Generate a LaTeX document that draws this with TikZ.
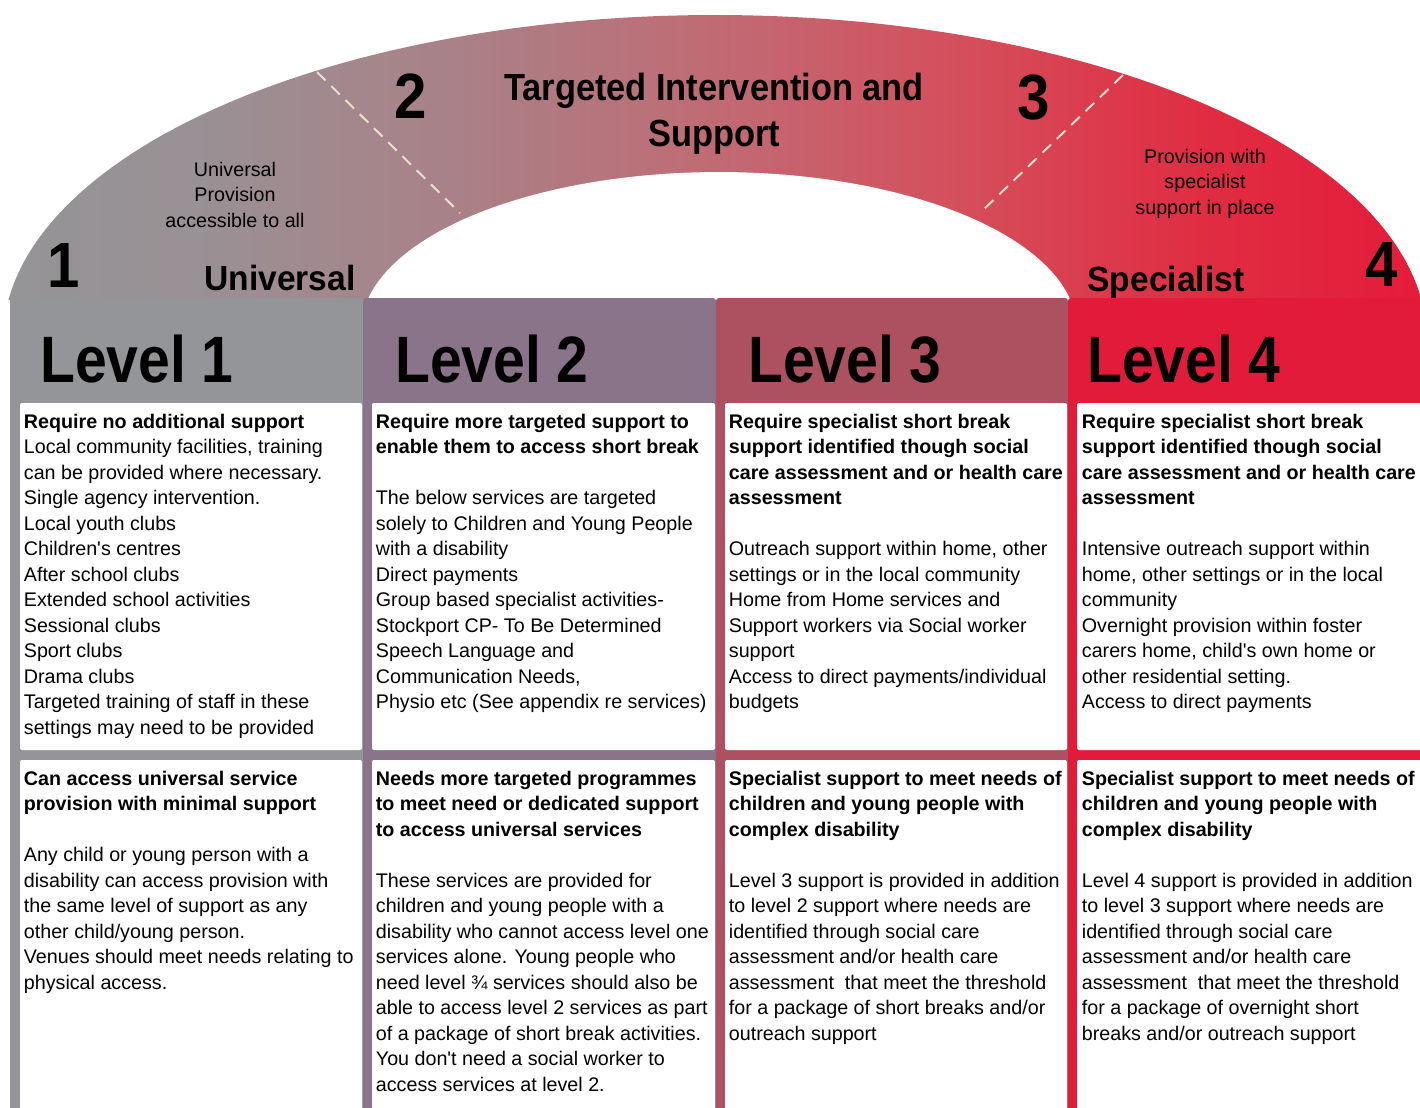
\documentclass[tikz,border=0pt]{standalone}
\usepackage{fontspec}
\setmainfont{Liberation Sans}
\newfontfamily\levelfont[FakeStretch=0.87]{Liberation Sans}
\newfontfamily\titlefont[FakeStretch=0.91]{Liberation Sans}
\newfontfamily\tierfont[FakeStretch=0.96]{Liberation Sans}

% column colours
\definecolor{lvgrey}{RGB}{148,149,152}
\definecolor{lvmauve}{RGB}{138,116,137}
\definecolor{lvrose}{RGB}{173,80,96}
\definecolor{lvred}{RGB}{227,27,59}
\definecolor{dashcol}{RGB}{234,222,206}

% arch gradient stops, left to right
\definecolor{ga}{RGB}{149,148,151}
\definecolor{gb}{RGB}{153,145,149}
\definecolor{gc}{RGB}{168,130,136}
\definecolor{gd}{RGB}{192,107,116}
\definecolor{ge}{RGB}{212,80,93}
\definecolor{gf}{RGB}{224,45,66}
\definecolor{gg}{RGB}{228,28,58}
\pgfdeclarehorizontalshading{archgrad}{100bp}{%
  color(0bp)=(ga); color(25bp)=(ga); color(31.6bp)=(gb); color(40.5bp)=(gc);
  color(49.9bp)=(gd); color(58.3bp)=(ge); color(67.2bp)=(gf); color(75bp)=(gg);
  color(100bp)=(gg)}

\begin{document}
\begin{tikzpicture}[x=0.5pt,y=-0.5pt,
  % multi-line nodes are placed by the baseline of their last line
  body/.style={font=\fontsize{9.85pt}{12.75pt}\selectfont, align=left,
    inner sep=0pt, anchor=base west},
  small/.style={font=\fontsize{9.85pt}{12.75pt}\selectfont, align=center,
    inner sep=0pt, anchor=base},
  levelhead/.style={font=\levelfont\bfseries\fontsize{32.8pt}{36pt}\selectfont,
    inner sep=0pt, anchor=base},
  bignum/.style={font=\titlefont\bfseries\fontsize{32pt}{36pt}\selectfont,
    inner sep=0pt, anchor=base},
  tier/.style={font=\tierfont\bfseries\fontsize{17.5pt}{20pt}\selectfont,
    inner sep=0pt, anchor=base},
  arctitle/.style={font=\titlefont\bfseries\fontsize{18.9pt}{23pt}\selectfont,
    align=center, inner sep=0pt, anchor=base},
  divider/.style={draw=dashcol, line width=1pt, dash pattern=on 6pt off 4pt},
  panel/.style={fill=white, rounded corners=1pt}
]
\useasboundingbox (0,0) rectangle (1420,1108);
\clip (0,0) rectangle (1420,1108);

% ---- graded arch: outer and inner elliptic edges ----
\shade[shading=archgrad]
  plot[domain=172.93:7.07, samples=120, variable=\t]
    ({715+712*cos(\t)}, {340-325*sin(\t)}) -- cycle;
\fill[white]
  plot[domain=169.06:10.94, samples=100, variable=\t]
    ({719+358*cos(\t)}, {330-158*sin(\t)}) -- cycle;

% dashed dividers across the arch
\coordinate (dla) at (317,72);
\coordinate (dlb) at (460,213);
\coordinate (dra) at (1123,75);
\coordinate (drb) at (980,213);
\draw[divider] (dla) -- (dlb);
\draw[divider] (dra) -- (drb);

% arch labels
\node[bignum] (n1) at (64,287) {1};
\node[bignum] (n2) at (411,118) {2};
\node[bignum] (n3) at (1034,119) {3};
\node[bignum] (n4) at (1382,286) {4};
\node[tier] (tuniv) at (280,290) {Universal};
\node[tier] (tspec) at (1166,291) {Specialist};
\node[arctitle] (ttarget) at (714,146) {Targeted Intervention and\\Support};
\node[small] (duniv) at (235,227) {Universal\\Provision\\accessible to all};
\node[small] (dspec) at (1205,214) {Provision with\\specialist\\support in place};

% ---- columns ----
\fill[lvgrey,  rounded corners=1.5pt] (10,298)   rectangle (363,1115);
\fill[lvmauve, rounded corners=1.5pt] (363,298)  rectangle (716,1115);
\fill[lvrose,  rounded corners=1.5pt] (716,298)  rectangle (1068,1115);
\fill[lvred,   rounded corners=1.5pt] (1068,298) rectangle (1425,1115);

\fill[panel] (20,403)   rectangle (362,750);
\fill[panel] (20,760)   rectangle (362,1120);
\fill[panel] (372,403)  rectangle (715,750);
\fill[panel] (372,760)  rectangle (715,1120);
\fill[panel] (725,403)  rectangle (1067,750);
\fill[panel] (725,760)  rectangle (1067,1120);
\fill[panel] (1077,403) rectangle (1430,750);
\fill[panel] (1077,760) rectangle (1430,1120);

% level headings
\node[levelhead] (lv1) at (137,382) {Level 1};
\node[levelhead] (lv2) at (492,382) {Level 2};
\node[levelhead] (lv3) at (845,382) {Level 3};
\node[levelhead] (lv4) at (1184,382) {Level 4};

% ---- upper panels ----
\node[body] (a1) at (23.5,734) {\textbf{Require no additional support}\\
Local community facilities, training\\
can be provided where necessary.\\
Single agency intervention.\\
Local youth clubs\\
Children\textquotesingle s centres\\
After school clubs\\
Extended school activities\\
Sessional clubs\\
Sport clubs\\
Drama clubs\\
Targeted training of staff in these\\
settings may need to be provided};

\node[body] (a2) at (375.5,708.5) {\textbf{Require more targeted support to}\\
\textbf{enable them to access short break}\\[12.75pt]
The below services are targeted\\
solely to Children and Young People\\
with a disability\\
Direct payments\\
Group based specialist activities-\\
Stockport CP- To Be Determined\\
Speech Language and\\
Communication Needs,\\
Physio etc (See appendix re services)};

\node[body] (a3) at (728.5,708.5) {\textbf{Require specialist short break}\\
\textbf{support identified though social}\\
\textbf{care assessment and or health care}\\
\textbf{assessment}\\[12.75pt]
Outreach support within home, other\\
settings or in the local community\\
Home from Home services and\\
Support workers via Social worker\\
support\\
Access to direct payments/individual\\
budgets};

\node[body] (a4) at (1081.5,708.5) {\textbf{Require specialist short break}\\
\textbf{support identified though social}\\
\textbf{care assessment and or health care}\\
\textbf{assessment}\\[12.75pt]
Intensive outreach support within\\
home, other settings or in the local\\
community\\
Overnight provision within foster\\
carers home, child\textquotesingle s own home or\\
other residential setting.\\
Access to direct payments};

% ---- lower panels ----
\node[body] (b1) at (23.5,989) {\textbf{Can access universal service}\\
\textbf{provision with minimal support}\\[12.75pt]
Any child or young person with a\\
disability can access provision with\\
the same level of support as any\\
other child/young person.\\
Venues should meet needs relating to\\
physical access.};

\node[body] (b2) at (375.5,1091) {\textbf{Needs more targeted programmes}\\
\textbf{to meet need or dedicated support}\\
\textbf{to access universal services}\\[12.75pt]
These services are provided for\\
children and young people with a\\
disability who cannot access level one\\
services alone. Young people who\\
need level ¾ services should also be\\
able to access level 2 services as part\\
of a package of short break activities.\\
You don\textquotesingle t need a social worker to\\
access services at level 2.};

\node[body] (b3) at (728.5,1040) {\textbf{Specialist support to meet needs of}\\
\textbf{children and young people with}\\
\textbf{complex disability}\\[12.75pt]
Level 3 support is provided in addition\\
to level 2 support where needs are\\
identified through social care\\
assessment and/or health care\\
assessment\ \ that meet the threshold\\
for a package of short breaks and/or\\
outreach support};

\node[body] (b4) at (1081.5,1040) {\textbf{Specialist support to meet needs of}\\
\textbf{children and young people with}\\
\textbf{complex disability}\\[12.75pt]
Level 4 support is provided in addition\\
to level 3 support where needs are\\
identified through social care\\
assessment and/or health care\\
assessment\ \ that meet the threshold\\
for a package of overnight short\\
breaks and/or outreach support};
\end{tikzpicture}
\end{document}
